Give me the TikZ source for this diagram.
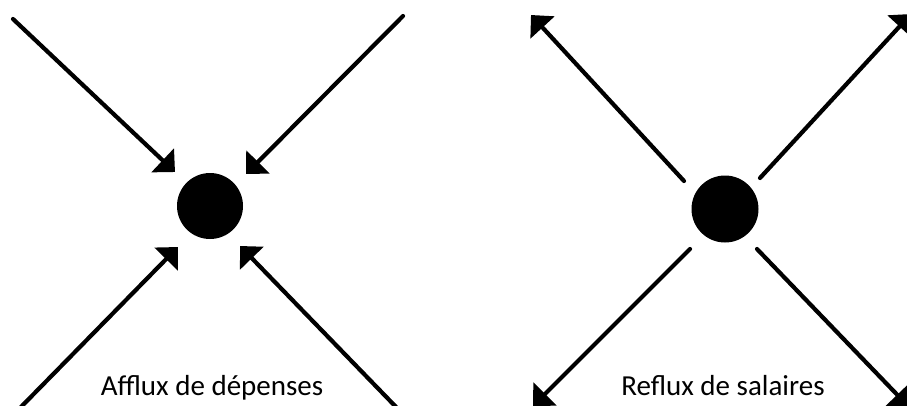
\documentclass[tikz,border=0pt]{standalone}
\usepackage{fontspec}
\setmainfont{Carlito}
\usetikzlibrary{arrows.meta}
\begin{document}
\begin{tikzpicture}[x=1pt,y=-1pt,
  flow/.style={line width=4.2pt, line cap=round, -{Triangle[length=17pt,width=32pt]}},
  dot/.style={circle, fill=black, inner sep=0pt, minimum size=#1},
  lbl/.style={anchor=base, font=\fontsize{29}{34}\selectfont}]
\useasboundingbox (0,0) rectangle (907,405);
% left: inflow
\node[dot=66pt] (cL) at (210,206) {};
\coordinate (a1) at (13,19);   \coordinate (t1) at (175,172);
\coordinate (a2) at (403,16);  \coordinate (t2) at (246,174);
\coordinate (a3) at (20,408);  \coordinate (t3) at (178,247);
\coordinate (a4) at (397,408); \coordinate (t4) at (240,246);
\draw[flow] (a1) -- (t1);
\draw[flow] (a2) -- (t2);
\draw[flow] (a3) -- (t3);
\draw[flow] (a4) -- (t4);
\node[lbl] (lL) at (212,395) {Afflux de dépenses};
% right: outflow
\node[dot=67pt] (cR) at (725,209) {};
\coordinate (b1) at (684,181); \coordinate (u1) at (531,15);
\coordinate (b2) at (760,178); \coordinate (u2) at (911,14);
\coordinate (b3) at (690,249); \coordinate (u3) at (533,406);
\coordinate (b4) at (757,249); \coordinate (u4) at (909,407);
\draw[flow] (b1) -- (u1);
\draw[flow] (b2) -- (u2);
\draw[flow] (b3) -- (u3);
\draw[flow] (b4) -- (u4);
\node[lbl] (lR) at (723,395) {Reflux de salaires};
\end{tikzpicture}
\end{document}
